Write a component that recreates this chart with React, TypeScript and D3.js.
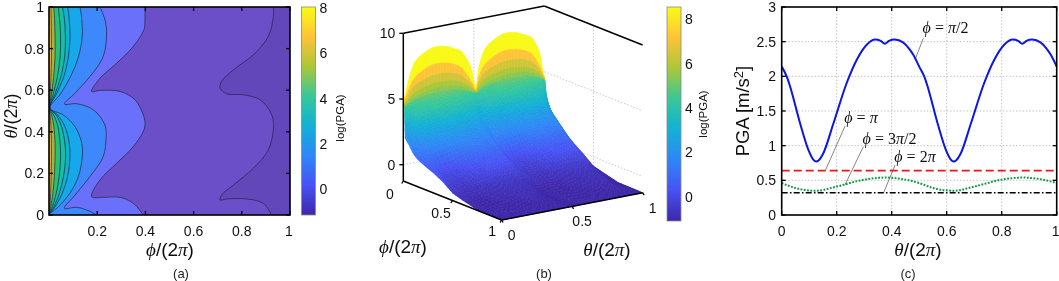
import React from "react";
import * as d3 from "d3";

// ---------- panel (a): contour lines, [phi, theta] ----------
const LEVEL_THETA = [1, .94, .86, .76, .66, .58, .514, .48, .425, .345, .28, .185, .105, .04, .008];
const LEVEL_2_PHI = [.129, .136, .138, .122, .087, .046, .004, .06, .108, .136, .138, .122, .087, .039, .004];
const LEVEL_3_PHI = [.078, .084, .087, .08, .06, .03, .003, .036, .066, .084, .087, .077, .055, .025, .003];
const LEVEL_4_PHI = [.056, .064, .068, .065, .048, .024, .003, .03, .052, .066, .069, .06, .043, .02, .003];
const LEVEL_5_PHI = [.038, .044, .048, .046, .034, .017, .002, .02, .037, .046, .048, .042, .03, .014, .002];
const LEVEL_6_PHI = [.02, .023, .025, .025, .019, .01, .002, .011, .02, .025, .025, .022, .016, .008, .002];
const LEVEL_7_PHI = [.008, .009, .01, .01, .008, .005, .001, .005, .008, .01, .01, .009, .007, .004, .001];
const LEVEL_M1: [number, number][] = [[.931, 1], [.931, .955], [.91, .859], [.848, .77], [.765, .698], [.716, .642], [.71, .61], [.737, .583], [.806, .578], [.876, .554], [.924, .482], [.931, .417], [.91, .313], [.848, .225], [.765, .144], [.716, .096], [.71, .072], [.737, .077], [.82, .077], [.889, .056], [.924, 0]];
const LEVEL_0: [number, number][] = [[.398, 1], [.398, .931], [.394, .891], [.35, .811], [.281, .73], [.212, .658], [.177, .594], [.212, .599], [.295, .594], [.357, .554], [.391, .482], [.398, .449], [.394, .409], [.35, .329], [.281, .249], [.212, .169], [.177, .088], [.225, .085], [.295, .085], [.35, .056], [.391, 0]];
const LEVEL_1: [number, number][] = [[.212, 1], [.232, .939], [.239, .883], [.225, .762], [.17, .666], [.108, .586], [.064, .533], [.115, .535], [.184, .506], [.232, .433], [.237, .377], [.225, .281], [.17, .185], [.108, .096], [.064, .032], [.115, .037], [.163, .021], [.198, 0]];
const BAND_COLORS = ["#6247ba", "#6a50c8", "#6a6ffa", "#3e88fa", "#12a8ea", "#0cb4cc", "#12bea8", "#22c27c", "#a0b840", "#f2b530"];
const A_PHI_TICKS = [.2, .4, .6, .8, 1];
const A_THETA_TICKS = [0, .2, .4, .6, .8, 1];
const A_BAR_TICKS = [0, 2, 4, 6, 8];
const B_BAR_TICKS = [0, 2, 4, 6, 8];

// parula colour ramp
const PARULA = ["#3e26a8", "#4752f4", "#2e87f7", "#12b1d6", "#37c897", "#abc738", "#fec338", "#f9fb14"];

// ---------- panel (b): log(PGA) grid ----------
const LOBE1_THETA = [0, .035, .083, .177, .24, .307, .36, .414, .473, .501, .515];
const LOBE2_THETA = [.535, .583, .677, .74, .807, .86, .914, .965, .985, 1];
const GRID_PHI = [0, .002, .004, .006, .008, .01, .02, .04, .06, .083, .11, .138, .18, .25, .3, .4, .5, .6, .75, .9, 1];
const GRID_Z = [
  [6.25, 7.67, 8.37, 8.5, 8.36, 8.1, 7.74, 6.6, 5.3],
  [5.6, 6.5, 7.1, 7.2, 7.1, 6.9, 6.5, 5.5, 4.9],
  [5.2, 5.9, 6.3, 6.4, 6.35, 6.2, 5.9, 5.2, 4.7],
  [4.95, 5.4, 5.7, 5.8, 5.75, 5.65, 5.4, 4.95, 4.6],
  [4.8, 5.1, 5.3, 5.4, 5.35, 5.3, 5.1, 4.75, 4.55],
  [4.6, 4.85, 5, 5.05, 5.03, 5, 4.85, 4.6, 4.45],
  [3.9, 4.3, 4.6, 4.7, 4.68, 4.6, 4.3, 3.9, 3.9],
  [3.3, 3.9, 4.25, 4.35, 4.33, 4.25, 3.9, 3.4, 3.2],
  [2.9, 3.6, 3.9, 4, 4, 3.9, 3.6, 2.9, 2.7],
  [2.2, 2.8, 2.95, 3, 3, 2.95, 2.8, 2.4, 2.35],
  [1.6, 2.1, 2.3, 2.4, 2.4, 2.3, 2.1, 2, 2],
  [1.3, 1.7, 1.9, 2, 2, 1.9, 1.7, 1.75, 1.8],
  [1.05, 1.25, 1.4, 1.5, 1.55, 1.5, 1.4, 1.45, 1.5],
  [.6, .3, .45, .7, .9, .9, .85, .85, .9],
  [.3, -.1, 0, .3, .45, .5, .5, .48, .5],
  [-.2, -.45, -.35, -.15, 0, .05, .05, 0, -.05],
  [-.66, -.7, -.68, -.66, -.62, -.6, -.6, -.62, -.66],
  [-.92, -.98, -.9, -.85, -.8, -.78, -.78, -.85, -.9],
  [-1.15, -1.15, -1.05, -.98, -.92, -.9, -.92, -1.1, -1.2],
  [-1.2, -1.2, -1.15, -1.12, -1.1, -1.08, -1.1, -1.18, -1.22],
  [-1.24, -1.24, -1.24, -1.24, -1.24, -1.24, -1.24, -1.24, -1.24],
];
// the three edges of the surface that run along phi
const EDGE_THETA_0 = [4.7, 4.65, 4.6, 4.55, 4.5, 4.4, 2.1, 1.85, 1.68, 1.37, 1.07, .89, .71, .46, .31, -.1, -.66, -.9, -1.2, -1.22, -1.24];
const EDGE_THETA_05 = [4.5, 4.5, 4.5, 4.45, 4.45, 4.4, 3.8, 3, 2.6, 2.3, 2, 1.8, 1.5, .9, .5, -.05, -.66, -.9, -1.2, -1.22, -1.24];
const EDGE_THETA_1 = [4.6, 4.55, 4.5, 4.45, 4.4, 4.3, 3.3, 2.7, 2.35, 2.1, 1.9, 1.65, 1.3, .75, .45, -.1, -.7, -.9, -1.2, -1.22, -1.24];
const FLAT_ROWS = 5;
const B_Z_TICKS = [0, 5, 10];
const B_PHI_TICKS = [0, .5, 1];
const B_THETA_TICKS = [0, .5, 1];

// ---------- panel (c) ----------
const C_THETA = [0, .021, .03, .067, .097, .115, .125, .135, .15, .188, .236, .273, .31, .34, .36, .375, .39, .411, .441, .463, .4785, .5, .521, .53, .567, .597, .615, .625, .635, .65, .688, .736, .773, .81, .84, .86, .875, .89, .911, .941, .963, .9785, 1];
const C_PI2 = [2.14, 1.97, 1.86, 1.32, .94, .8, .77, .79, .88, 1.32, 1.9, 2.24, 2.46, 2.53, 2.51, 2.47, 2.51, 2.53, 2.49, 2.4, 2.31, 2.14, 1.97, 1.86, 1.32, .94, .8, .77, .79, .88, 1.32, 1.9, 2.24, 2.46, 2.53, 2.51, 2.47, 2.51, 2.53, 2.49, 2.4, 2.31, 2.14];
const C_3PI2_THETA = [0, .05, .125, .2, .3, .375, .45, .5, .55, .625, .7, .8, .875, .95, 1];
const C_3PI2 = [.46, .39, .35, .41, .51, .54, .51, .46, .39, .35, .41, .51, .54, .51, .46];
const C_PI_VALUE = [.64, .64];
const C_2PI_VALUE = [.32, .32];
const C_ENDS = [0, 1];
const C_X_TICKS = [0, .2, .4, .6, .8, 1];
const C_Y_TICKS = [0, .5, 1, 1.5, 2, 2.5, 3];
const C_Y_TICK_TEXT = ["0", "0.5", "1", "1.5", "2", "2.5", "3"];
const C_LEADERS = [[.515, 2.55, .485, 2.24], [.23, 1.28, .158, .635], [.297, .987, .23, .433], [.412, .72, .37, .313]];

const SANS = "'Liberation Sans', Arial, sans-serif";
const SERIF = "'Liberation Serif', serif";

const G = ({ c }: { c: string }) => <tspan fontFamily={SERIF} fontStyle="italic">{c}</tspan>;
const P = () => <tspan fontFamily={SERIF} fontStyle="italic">π</tspan>;

const Ratio = ({ sym, x, y, rotate }: { sym: string; x: number; y: number; rotate?: boolean }) => (
  <text x={x} y={y} textAnchor="middle" fontSize={rotate ? 18 : 19} fill="#111" fontFamily={SANS}
    transform={rotate ? `rotate(-90 ${x} ${y})` : undefined}>
    <G c={sym} />/(2<P />)
  </text>
);

function rampScale(lo: number, hi: number) {
  return d3.scaleLinear<string>()
    .domain(PARULA.map((_, i) => lo + (hi - lo) * i / (PARULA.length - 1)))
    .range(PARULA)
    .interpolate(d3.interpolateRgb)
    .clamp(true);
}

function ColorBar({ id, x, top, bottom, lo, hi, ticks }: { id: string; x: number; top: number; bottom: number; lo: number; hi: number; ticks: number[] }) {
  const y = d3.scaleLinear().domain([lo, hi]).range([bottom, top]);
  return (
    <g>
      <defs>
        <linearGradient id={id} x1="0" y1="1" x2="0" y2="0">
          {PARULA.map((c, i) => <stop key={i} offset={i / (PARULA.length - 1)} stopColor={c} />)}
        </linearGradient>
      </defs>
      <rect x={x} y={top} width={14} height={bottom - top} fill={`url(#${id})`} stroke="#8a8a8a" strokeWidth={0.8} />
      {ticks.map(t => (
        <text key={t} x={x + 18} y={y(t) + 5} fontSize={14} fill="#111" fontFamily={SANS}>{t}</text>
      ))}
    </g>
  );
}

function PanelA() {
  const x = d3.scaleLinear().domain([0, 1]).range([49, 290]);
  const y = d3.scaleLinear().domain([0, 1]).range([215, 7]);
  const line = d3.line<[number, number]>().x(d => x(d[0])).y(d => y(d[1])).curve(d3.curveCatmullRom.alpha(0.5));
  const fromPhi = (phi: number[]) => phi.map((p, i) => [p, LEVEL_THETA[i]] as [number, number]);
  const levels = [LEVEL_M1, LEVEL_0, LEVEL_1, fromPhi(LEVEL_2_PHI), fromPhi(LEVEL_3_PHI), fromPhi(LEVEL_4_PHI), fromPhi(LEVEL_5_PHI), fromPhi(LEVEL_6_PHI), fromPhi(LEVEL_7_PHI)];
  return (
    <g>
      <defs><clipPath id="clipA"><rect x={49} y={7} width={241} height={208} /></clipPath></defs>
      <g clipPath="url(#clipA)">
        <rect x={49} y={7} width={241} height={208} fill={BAND_COLORS[0]} />
        {levels.map((l, i) => {
          const d = line(l)!;
          return (
            <g key={i}>
              <path d={`${d}L${x(0)},${y(0)}L${x(0)},${y(1)}Z`} fill={BAND_COLORS[i + 1]} />
              <path d={d} fill="none" stroke="#23233f" strokeWidth={0.7} />
            </g>
          );
        })}
      </g>
      {A_PHI_TICKS.map(t => (
        <g key={t}>
          <line x1={x(t)} x2={x(t)} y1={215} y2={211} stroke="#000" strokeWidth={1.3} />
          <line x1={x(t)} x2={x(t)} y1={7} y2={11} stroke="#000" strokeWidth={1.3} />
          <text x={t === 1 ? x(t) - 1 : x(t)} y={236} textAnchor="middle" fontSize={14} fill="#111" fontFamily={SANS}>{t}</text>
        </g>
      ))}
      {A_THETA_TICKS.map(t => (
        <g key={t}>
          <line x1={49} x2={53} y1={y(t)} y2={y(t)} stroke="#000" strokeWidth={1.3} />
          <line x1={290} x2={286} y1={y(t)} y2={y(t)} stroke="#000" strokeWidth={1.3} />
          <text x={44} y={y(t) + 5} textAnchor="end" fontSize={14} fill="#111" fontFamily={SANS}>{t}</text>
        </g>
      ))}
      <rect x={49} y={7} width={241} height={208} fill="none" stroke="#000" strokeWidth={1.6} />
      <Ratio sym="θ" x={17} y={116} rotate />
      <Ratio sym="ϕ" x={170} y={256} />
      <text x={181} y={278} textAnchor="middle" fontSize={13} fill="#222" fontFamily={SANS}>(a)</text>
      <ColorBar id="barA" x={301.5} top={7} bottom={215} lo={-1.15} hi={8.05} ticks={A_BAR_TICKS} />
      <text x={344} y={118} textAnchor="middle" fontSize={11.5} fill="#111" fontFamily={SANS} transform="rotate(-90 344 118)">log(PGA)</text>
    </g>
  );
}

function PanelB() {
  const ox = 403.3, oy = 181;
  const phiX = d3.scaleLinear().domain([0, 1]).range([0, 98.3]);
  const phiY = d3.scaleLinear().domain([0, 1]).range([0, 39]);
  const thetaX = d3.scaleLinear().domain([0, 1]).range([0, 141]);
  const thetaY = d3.scaleLinear().domain([0, 1]).range([0, -27.3]);
  const zY = d3.scaleLinear().domain([-1.24, 10]).range([0, -147.7]);
  const proj = (phi: number, theta: number, z: number): [number, number] =>
    [ox + phiX(phi) + thetaX(theta), oy + phiY(phi) + thetaY(theta) + zY(z)];
  const color = rampScale(-1.1, 8.55);

  // two lobes of the grid, side by side, with their three edges
  const thetaCols = [...LOBE1_THETA, ...LOBE2_THETA];
  const rows = GRID_Z.map((r, i) => [EDGE_THETA_0[i], ...r, EDGE_THETA_05[i], ...r, EDGE_THETA_1[i]]);
  const MID = LOBE1_THETA.length - 1;
  const LAST = thetaCols.length - 2;
  const cr = (a: number, b: number, c: number, d: number, t: number) =>
    0.5 * (2 * b + (c - a) * t + (2 * a - 5 * b + 4 * c - d) * t * t + (3 * b - a - 3 * c + d) * t * t * t);
  const sample = (arr: number[], k: number, t: number) => {
    if (k === 0 || k === LAST || k === MID || k === MID - 1) return arr[k] + (arr[k + 1] - arr[k]) * t;
    const n = arr.length - 1;
    return cr(arr[Math.max(k - 1, 0)], arr[k], arr[k + 1], arr[Math.min(k + 2, n)], t);
  };
  const SUB_T = 3;
  const quads: { d: string; c: string }[] = [];
  for (let i = 0; i < rows.length - 1; i++) {
    const subP = i < FLAT_ROWS ? 1 : 4;
    for (let sp = 0; sp < subP; sp++) {
      const p0 = sp / subP, p1 = (sp + 1) / subP;
      const ph0 = d3.interpolateNumber(GRID_PHI[i], GRID_PHI[i + 1])(p0);
      const ph1 = d3.interpolateNumber(GRID_PHI[i], GRID_PHI[i + 1])(p1);
      for (let k = thetaCols.length - 2; k >= 0; k--) {
        for (let st = SUB_T - 1; st >= 0; st--) {
          const t0 = st / SUB_T, t1 = (st + 1) / SUB_T;
          const th0 = sample(thetaCols, k, t0), th1 = sample(thetaCols, k, t1);
          const a0 = sample(rows[i], k, t0), a1 = sample(rows[i], k, t1);
          const b0 = sample(rows[i + 1], k, t0), b1 = sample(rows[i + 1], k, t1);
          const z00 = a0 + (b0 - a0) * p0, z01 = a1 + (b1 - a1) * p0;
          const z10 = a0 + (b0 - a0) * p1, z11 = a1 + (b1 - a1) * p1;
          const pts = [proj(ph0, th0, z00), proj(ph0, th1, z01), proj(ph1, th1, z11), proj(ph1, th0, z10)];
          const c = i < FLAT_ROWS ? color(d3.max(rows[i])!) : color((z00 + z01 + z10 + z11) / 4);
          quads.push({ d: `M${pts.map(q => `${q[0].toFixed(2)},${q[1].toFixed(2)}`).join("L")}Z`, c });
        }
      }
    }
  }
  const seg = (a: [number, number], b: [number, number], dotted?: boolean, key?: string) => (
    <line key={key} x1={a[0]} y1={a[1]} x2={b[0]} y2={b[1]}
      stroke={dotted ? "#c4c4c4" : "#000"} strokeWidth={dotted ? 0.9 : 1.5}
      strokeDasharray={dotted ? "1.5 1.8" : undefined} />
  );
  const Z0 = -1.24, Z1 = 10;
  return (
    <g>
      <defs>
        <filter id="soft" x="-5%" y="-5%" width="110%" height="110%"><feGaussianBlur stdDeviation="0.55" /></filter>
      </defs>
      {/* back walls */}
      {B_THETA_TICKS.slice(1, 2).map(t => seg(proj(0, t, Z0), proj(0, t, Z1), true, `wt${t}`))}
      {B_PHI_TICKS.slice(1, 2).map(t => seg(proj(t, 1, Z0), proj(t, 1, Z1), true, `wp${t}`))}
      {B_Z_TICKS.slice(0, 2).map(t => seg(proj(0, 1, t), proj(1, 1, t), true, `zr${t}`))}
      {B_Z_TICKS.slice(0, 2).map(t => seg(proj(0, 0, t), proj(0, 1, t), true, `zl${t}`))}
      <g filter="url(#soft)">
        {quads.map((q, i) => <path key={i} d={q.d} fill={q.c} stroke={q.c} strokeWidth={0.6} />)}
      </g>
      {/* frame */}
      {seg(proj(0, 0, Z1), proj(0, 1, Z1))}
      {seg(proj(0, 1, Z1), proj(1, 1, Z1))}
      {seg(proj(0, 0, Z0), proj(0, 0, Z1))}
      {seg(proj(0, 0, Z0), proj(1, 0, Z0))}
      {seg(proj(1, 0, Z0), proj(1, 1, Z0))}
      {B_Z_TICKS.map(t => {
        const p = proj(0, 0, t);
        return (
          <g key={t}>
            <line x1={p[0] - 4} x2={p[0]} y1={p[1]} y2={p[1]} stroke="#000" strokeWidth={1.3} />
            <text x={p[0] - 8} y={p[1] + 5} textAnchor="end" fontSize={14} fill="#111" fontFamily={SANS}>{t}</text>
          </g>
        );
      })}
      {B_PHI_TICKS.map(t => {
        const p = proj(t, 0, Z0);
        return (
          <g key={t}>
            <line x1={p[0]} y1={p[1]} x2={p[0] - 1.5} y2={p[1] + 2.5} stroke="#000" strokeWidth={1.3} />
            <text x={p[0] - 13.5 + t * 4} y={p[1] + 18 - t * 2} textAnchor="middle" fontSize={14} fill="#111" fontFamily={SANS}>{t}</text>
          </g>
        );
      })}
      {B_THETA_TICKS.map(t => {
        const p = proj(1, t, Z0);
        return (
          <g key={t}>
            <line x1={p[0]} y1={p[1]} x2={p[0] + 1.5} y2={p[1] + 2.5} stroke="#000" strokeWidth={1.3} />
            <text x={p[0] + 10} y={p[1] + 20} textAnchor="middle" fontSize={14} fill="#111" fontFamily={SANS}>{t}</text>
          </g>
        );
      })}
      <Ratio sym="ϕ" x={403} y={253} />
      <Ratio sym="θ" x={607} y={256} />
      <text x={544} y={278} textAnchor="middle" fontSize={13} fill="#222" fontFamily={SANS}>(b)</text>
      <ColorBar id="barB" x={667} top={7} bottom={221} lo={-1.1} hi={8.55} ticks={B_BAR_TICKS} />
      <text x={707} y={114} textAnchor="middle" fontSize={11.5} fill="#111" fontFamily={SANS} transform="rotate(-90 707 114)">log(PGA)</text>
    </g>
  );
}

function PanelC() {
  const x = d3.scaleLinear().domain([0, 1]).range([781.7, 1056.7]);
  const y = d3.scaleLinear().domain([0, 3]).range([215, 7]);
  const smooth = d3.line<[number, number]>().x(d => x(d[0])).y(d => y(d[1])).curve(d3.curveMonotoneX);
  const zip = (a: number[], b: number[]) => a.map((v, i) => [v, b[i]] as [number, number]);
  const note = (cx: number, cy: number, body: React.ReactNode) => (
    <text x={cx} y={cy} textAnchor="middle" fontSize={16} fill="#111" fontFamily={SERIF}>{body}</text>
  );
  return (
    <g>
      {C_X_TICKS.slice(1, -1).map(t => <line key={t} x1={x(t)} x2={x(t)} y1={7} y2={215} stroke="#bdbdbd" strokeWidth={0.9} strokeDasharray="1.5 1.8" />)}
      {C_Y_TICKS.slice(1, -1).map(t => <line key={t} y1={y(t)} y2={y(t)} x1={781.7} x2={1056.7} stroke="#bdbdbd" strokeWidth={0.9} strokeDasharray="1.5 1.8" />)}
      {C_LEADERS.map((l, i) => <line key={i} x1={x(l[0])} y1={y(l[1])} x2={x(l[2])} y2={y(l[3])} stroke="#666" strokeWidth={0.8} />)}
      <path d={smooth(zip(C_ENDS, C_PI_VALUE))!} fill="none" stroke="#e8141c" strokeWidth={1.7} strokeDasharray="8 4" />
      <path d={smooth(zip(C_ENDS, C_2PI_VALUE))!} fill="none" stroke="#000" strokeWidth={1.6} strokeDasharray="6 2.2 1.6 2.2" />
      <path d={smooth(zip(C_3PI2_THETA, C_3PI2))!} fill="none" stroke="#0a9a3c" strokeWidth={2} strokeDasharray="1.8 1.5" />
      <path d={smooth(zip(C_THETA, C_PI2))!} fill="none" stroke="#0a14e6" strokeWidth={2} />
      {C_X_TICKS.map(t => (
        <g key={t}>
          <line x1={x(t)} x2={x(t)} y1={215} y2={211} stroke="#000" strokeWidth={1.3} />
          <line x1={x(t)} x2={x(t)} y1={7} y2={11} stroke="#000" strokeWidth={1.3} />
          <text x={t === 1 ? x(t) - 1 : x(t)} y={236} textAnchor="middle" fontSize={14} fill="#111" fontFamily={SANS}>{t}</text>
        </g>
      ))}
      {C_Y_TICKS.map((t, i) => (
        <g key={t}>
          <line x1={781.7} x2={785.7} y1={y(t)} y2={y(t)} stroke="#000" strokeWidth={1.3} />
          <line x1={1056.7} x2={1052.7} y1={y(t)} y2={y(t)} stroke="#000" strokeWidth={1.3} />
          <text x={776} y={y(t) + 5} textAnchor="end" fontSize={14} fill="#111" fontFamily={SANS}>{C_Y_TICK_TEXT[i]}</text>
        </g>
      ))}
      <rect x={781.7} y={7} width={275} height={208} fill="none" stroke="#000" strokeWidth={1.6} />
      {note(945.5, 33, <><tspan fontStyle="italic">ϕ</tspan> = <tspan fontStyle="italic">π</tspan>/2</>)}
      {note(861, 123, <><tspan fontStyle="italic">ϕ</tspan> = <tspan fontStyle="italic">π</tspan></>)}
      {note(889.5, 144, <><tspan fontStyle="italic">ϕ</tspan> = 3<tspan fontStyle="italic">π</tspan>/2</>)}
      {note(915, 162, <><tspan fontStyle="italic">ϕ</tspan> = 2<tspan fontStyle="italic">π</tspan></>)}
      <text x={749} y={111} textAnchor="middle" fontSize={18.5} fill="#111" fontFamily={SANS} transform="rotate(-90 749 111)">
        PGA [m/s<tspan dy={-6} fontSize={13}>2</tspan><tspan dy={6}>]</tspan>
      </text>
      <Ratio sym="θ" x={918} y={256} />
      <text x={908} y={278} textAnchor="middle" fontSize={13} fill="#222" fontFamily={SANS}>(c)</text>
    </g>
  );
}

export default function App() {
  return (
    <svg width={1059} height={281} viewBox="0 0 1059 281" style={{ position: "absolute", left: 0, top: 0, display: "block", background: "#fff" }}>
      <defs>
        <filter id="photo" x="0" y="0" width="100%" height="100%"><feGaussianBlur stdDeviation="0.3" /></filter>
      </defs>
      <g filter="url(#photo)">
        <rect width={1059} height={281} fill="#fff" />
        <PanelA />
        <PanelB />
        <PanelC />
      </g>
    </svg>
  );
}
